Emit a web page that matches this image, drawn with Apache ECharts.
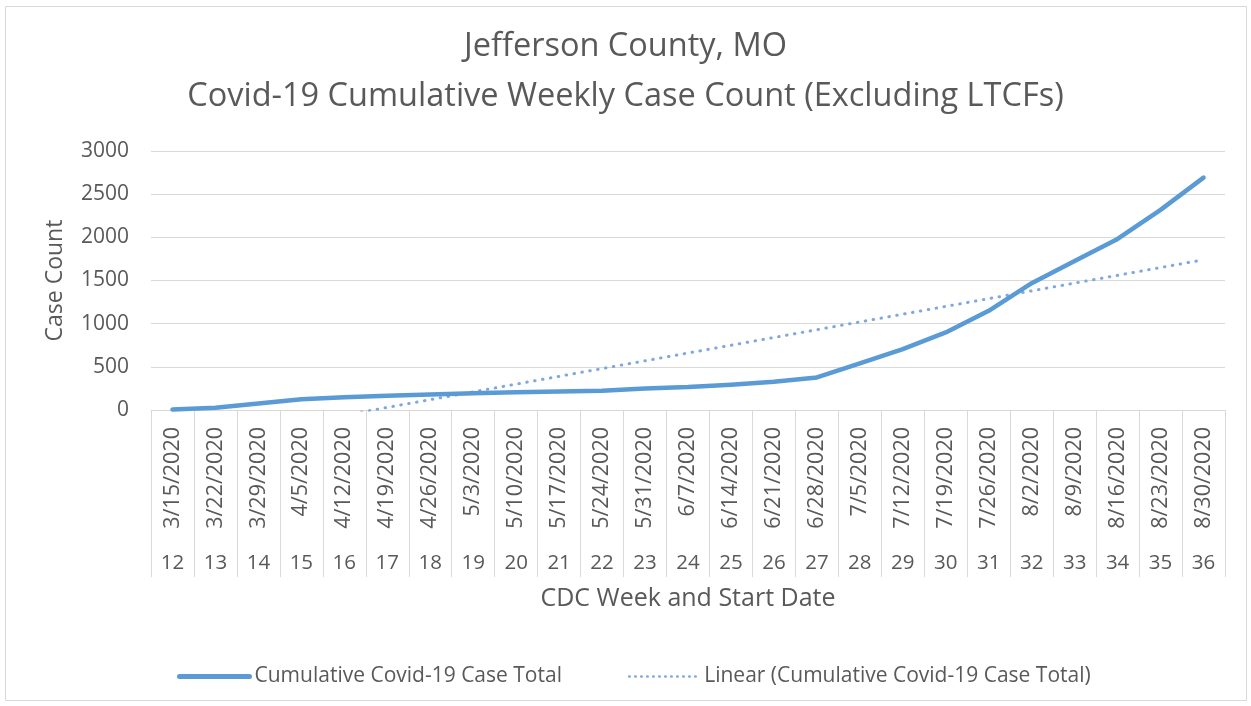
<!DOCTYPE html>
<html>
<head>
<meta charset="utf-8">
<title>Jefferson County, MO - Covid-19 Cumulative Weekly Case Count</title>
<script src="https://cdn.jsdelivr.net/npm/echarts@6/dist/echarts.min.js"></script>
<style>
    html, body { margin: 0; padding: 0; background: #fff; }
    #chart { width: 1251px; height: 706px; }
</style>
</head>
<body>
<div id="chart"></div>
<script>
    // start date of each CDC week
    const startDates = ['3/15/2020', '3/22/2020', '3/29/2020', '4/5/2020', '4/12/2020', '4/19/2020', '4/26/2020',
        '5/3/2020', '5/10/2020', '5/17/2020', '5/24/2020', '5/31/2020', '6/7/2020', '6/14/2020', '6/21/2020',
        '6/28/2020', '7/5/2020', '7/12/2020', '7/19/2020', '7/26/2020', '8/2/2020', '8/9/2020', '8/16/2020',
        '8/23/2020', '8/30/2020'];
    const cdcWeeks = ['12', '13', '14', '15', '16', '17', '18', '19', '20', '21', '22', '23', '24', '25', '26',
        '27', '28', '29', '30', '31', '32', '33', '34', '35', '36'];
    // cumulative cases
    const caseTotals = [5, 25, 75, 125, 148, 166, 180, 193, 205, 213, 222, 250, 265, 292, 327,
        377, 540, 705, 898, 1149, 1469, 1725, 1982, 2318, 2692];
    // linear trendline, value at first and last week
    const trendEnds = [-420, 1740];
    const yTicks = { min: 0, max: 3000, interval: 500 };

    const FONT = '"Open Sans", "Noto Sans", sans-serif';
    const TXT = '#595959';
    const GRID = '#d9d9d9';
    const MAIN = '#5b9bd5';
    const TREND = '#7fa9dc';

    let chart = echarts.init(document.getElementById('chart'), null, { renderer: 'canvas' });

    chart.setOption({
        animation: false,
        textStyle: { fontFamily: FONT, color: TXT },
        title: {
            text: 'Jefferson County, MO\nCovid-19 Cumulative Weekly Case Count (Excluding LTCFs)',
            left: 'center',
            top: 22,
            padding: [0, 0, 0, 18],
            textStyle: {
                fontFamily: FONT,
                fontSize: 32.5,
                fontWeight: 'normal',
                lineHeight: 50,
                color: TXT
            }
        },
        graphic: [{
            type: 'rect',
            silent: true,
            shape: { x: 5.5, y: 6.5, width: 1241, height: 694 },
            style: { fill: 'none', stroke: GRID, lineWidth: 1 }
        }],
        legend: {
            left: 172,
            top: 661,
            itemWidth: 70,
            itemHeight: 14,
            itemGap: 66,
            itemStyle: { opacity: 0 },
            textStyle: { fontFamily: FONT, fontSize: 21, color: TXT },
            data: [
                {
                    name: 'Cumulative Covid-19 Case Total',
                    itemStyle: { opacity: 0 },
                    lineStyle: { color: MAIN, width: 5, cap: 'round' }
                },
                {
                    name: 'Linear (Cumulative Covid-19 Case Total)',
                    itemStyle: { opacity: 0 },
                    lineStyle: { color: TREND, width: 2.5, type: [0.5, 5.5], cap: 'round' }
                }
            ]
        },
        grid: {
            left: 151,
            right: 26,
            top: 151,
            bottom: 296,
            containLabel: false
        },
        xAxis: [
            {
                type: 'category',
                data: startDates,
                boundaryGap: true,
                axisLine: { lineStyle: { color: GRID, width: 1 } },
                axisTick: { show: true, interval: 0, length: 167, lineStyle: { color: GRID, width: 1 } },
                axisLabel: {
                    interval: 0,
                    rotate: 90,
                    margin: 17,
                    fontSize: 21.5,
                    fontFamily: FONT,
                    color: TXT
                },
                name: 'CDC Week and Start Date',
                nameLocation: 'middle',
                nameGap: 176,
                nameTextStyle: { fontFamily: FONT, fontSize: 25, color: TXT }
            },
            {
                type: 'category',
                data: cdcWeeks,
                position: 'bottom',
                boundaryGap: true,
                axisLine: { show: false },
                axisTick: { show: false },
                splitLine: { show: false },
                axisLabel: {
                    interval: 0,
                    margin: 143,
                    fontSize: 20.5,
                    fontFamily: FONT,
                    color: TXT
                }
            }
        ],
        yAxis: {
            type: 'value',
            min: yTicks.min,
            max: yTicks.max,
            interval: yTicks.interval,
            axisLine: { show: false },
            axisTick: { show: false },
            splitLine: { lineStyle: { color: GRID, width: 1 } },
            axisLabel: {
                margin: 22,
                fontSize: 21,
                fontFamily: FONT,
                color: TXT,
                formatter: function (v) { return String(v); }
            },
            name: 'Case Count',
            nameLocation: 'middle',
            nameRotate: 90,
            nameGap: 84,
            nameTextStyle: { fontFamily: FONT, fontSize: 23, color: TXT }
        },
        series: [
            {
                name: 'Cumulative Covid-19 Case Total',
                type: 'line',
                xAxisIndex: 0,
                data: caseTotals,
                symbol: 'none',
                smooth: false,
                color: MAIN,
                lineStyle: { color: MAIN, width: 4.5, cap: 'round', join: 'round' },
                z: 3
            },
            {
                name: 'Linear (Cumulative Covid-19 Case Total)',
                type: 'line',
                xAxisIndex: 0,
                data: [[0, trendEnds[0]], [startDates.length - 1, trendEnds[1]]],
                symbol: 'none',
                clip: true,
                color: TREND,
                lineStyle: { color: TREND, width: 3, type: [0.5, 7.5], cap: 'round' },
                z: 2
            }
        ]
    });
</script>
</body>
</html>
